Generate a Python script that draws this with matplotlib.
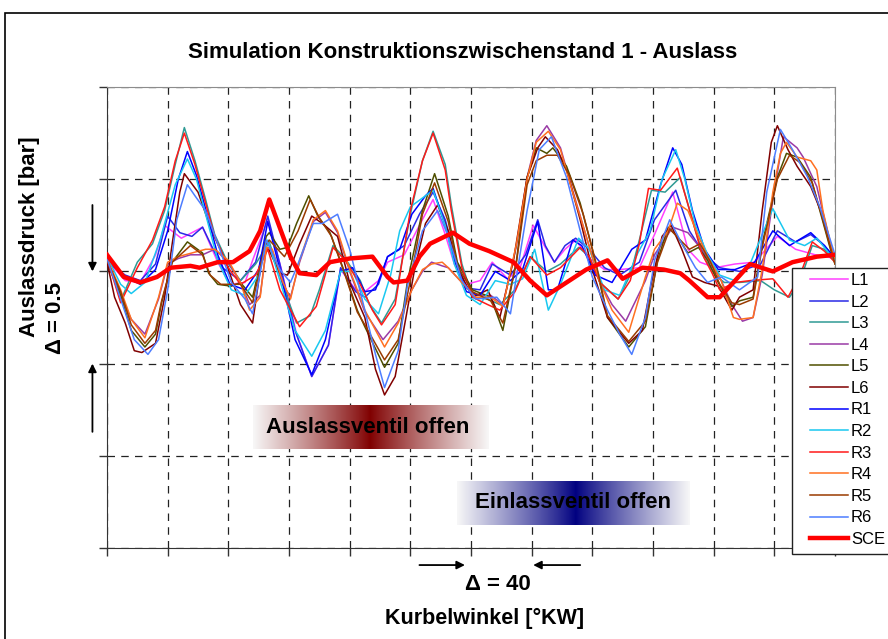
import numpy as np
import matplotlib
matplotlib.use('Agg')
import matplotlib.pyplot as plt
from matplotlib.patches import Rectangle

plt.rcParams['font.family'] = ['Liberation Sans', 'DejaVu Sans']

# Auslassdruck je Zylinder (Kurbelwinkel in °KW, Druck in bar)
l1_kw = [0, 12, 22, 32, 38, 49, 63, 73, 81, 91, 96, 106, 115, 125, 135, 146, 154, 164, 170, 179, 185, 196, 206, 215, 223, 229, 237, 246, 254, 264, 272, 281, 289, 295, 302, 309, 318, 328, 338, 351, 361, 373, 383, 391, 401, 414, 427, 442, 454, 467, 480]
l1_p = [1.56, 1.45, 1.44, 1.59, 1.75, 1.68, 1.74, 1.55, 1.43, 1.44, 1.56, 1.78, 1.51, 1.16, 0.93, 1.10, 1.51, 1.40, 1.39, 1.45, 1.55, 1.59, 1.75, 1.89, 1.70, 1.54, 1.43, 1.45, 1.55, 1.46, 1.51, 1.75, 1.63, 1.55, 1.62, 1.67, 1.57, 1.51, 1.51, 1.52, 1.70, 1.93, 1.62, 1.55, 1.52, 1.54, 1.55, 1.69, 1.62, 1.59, 1.57]

l2_kw = [0, 12, 22, 32, 40, 48, 56, 63, 70, 76, 88, 98, 106, 114, 124, 135, 146, 154, 164, 170, 179, 185, 196, 206, 215, 223, 229, 237, 246, 254, 266, 276, 284, 289, 295, 302, 309, 318, 328, 338, 351, 361, 375, 384, 394, 404, 417, 431, 442, 454, 464, 473, 480]
l2_p = [1.55, 1.48, 1.45, 1.54, 1.80, 1.71, 1.69, 1.74, 1.62, 1.52, 1.45, 1.55, 1.80, 1.54, 1.18, 0.93, 1.10, 1.52, 1.39, 1.36, 1.43, 1.58, 1.64, 1.81, 1.93, 1.78, 1.59, 1.41, 1.40, 1.54, 1.48, 1.59, 1.78, 1.64, 1.55, 1.64, 1.68, 1.62, 1.52, 1.48, 1.55, 1.78, 1.94, 1.72, 1.59, 1.52, 1.50, 1.54, 1.72, 1.66, 1.70, 1.64, 1.57]

l3_kw = [0, 10, 20, 30, 38, 45, 51, 58, 65, 71, 80, 88, 98, 107, 117, 125, 134, 140, 149, 157, 167, 173, 181, 190, 200, 208, 215, 223, 227, 234, 241, 251, 259, 269, 279, 290, 299, 311, 318, 325, 337, 345, 351, 359, 368, 378, 388, 394, 401, 407, 417, 431, 440, 450, 457, 465, 473, 480]
l3_p = [1.55, 1.36, 1.55, 1.65, 1.83, 2.08, 2.28, 2.10, 1.89, 1.70, 1.54, 1.45, 1.54, 1.66, 1.40, 1.22, 1.26, 1.40, 1.64, 1.57, 1.45, 1.32, 1.22, 1.35, 1.81, 2.10, 2.26, 2.08, 1.86, 1.54, 1.36, 1.35, 1.32, 1.40, 1.58, 1.50, 1.54, 1.63, 1.58, 1.44, 1.35, 1.48, 1.67, 1.94, 1.93, 2.01, 1.72, 1.57, 1.48, 1.44, 1.44, 1.45, 1.40, 1.36, 1.45, 1.64, 1.62, 1.55]

l4_kw = [0, 9, 16, 25, 34, 40, 47, 55, 63, 71, 80, 88, 94, 101, 105, 109, 116, 121, 127, 136, 144, 152, 160, 170, 182, 192, 201, 208, 214, 221, 225, 234, 243, 253, 261, 270, 277, 283, 290, 299, 307, 316, 325, 333, 342, 355, 361, 373, 383, 390, 396, 405, 412, 419, 426, 432, 439, 446, 455, 459, 468, 477, 480]
l4_p = [1.56, 1.37, 1.24, 1.16, 1.35, 1.54, 1.57, 1.59, 1.59, 1.62, 1.55, 1.44, 1.32, 1.37, 1.62, 1.61, 1.43, 1.36, 1.55, 1.77, 1.82, 1.71, 1.50, 1.28, 1.13, 1.23, 1.40, 1.50, 1.55, 1.53, 1.52, 1.44, 1.37, 1.37, 1.32, 1.64, 2.01, 2.21, 2.29, 2.17, 1.94, 1.69, 1.44, 1.32, 1.23, 1.45, 1.59, 1.74, 1.71, 1.64, 1.57, 1.45, 1.32, 1.23, 1.25, 1.48, 1.89, 2.23, 2.17, 2.12, 1.96, 1.65, 1.55]

l5_kw = [0, 9, 16, 25, 32, 36, 43, 53, 63, 67, 73, 82, 88, 96, 105, 107, 114, 119, 125, 133, 139, 147, 156, 165, 170, 183, 192, 198, 208, 216, 225, 231, 241, 253, 261, 270, 277, 283, 290, 294, 303, 312, 320, 330, 344, 355, 363, 370, 376, 383, 390, 396, 403, 412, 417, 426, 432, 442, 448, 455, 464, 470, 477, 480]
l5_p = [1.55, 1.37, 1.18, 1.09, 1.16, 1.33, 1.55, 1.66, 1.60, 1.49, 1.43, 1.42, 1.44, 1.36, 1.69, 1.71, 1.62, 1.63, 1.76, 1.91, 1.80, 1.71, 1.51, 1.29, 1.20, 0.98, 1.11, 1.44, 1.83, 2.03, 1.80, 1.55, 1.40, 1.36, 1.18, 1.56, 2.01, 2.17, 2.14, 2.17, 2.07, 1.87, 1.62, 1.25, 1.09, 1.20, 1.56, 1.74, 1.69, 1.60, 1.63, 1.56, 1.44, 1.31, 1.34, 1.36, 1.65, 2.01, 2.14, 2.12, 2.01, 1.83, 1.62, 1.54]

l6_kw = [0, 5, 12, 18, 23, 32, 38, 43, 48, 51, 60, 69, 78, 88, 96, 103, 106, 114, 119, 127, 135, 142, 152, 160, 170, 177, 183, 190, 196, 203, 210, 218, 225, 231, 241, 251, 259, 268, 277, 284, 289, 297, 303, 312, 320, 330, 344, 353, 359, 366, 372, 379, 386, 394, 403, 412, 417, 426, 432, 438, 442, 449, 455, 464, 472, 480]
l6_p = [1.55, 1.36, 1.22, 1.07, 1.06, 1.11, 1.36, 1.65, 1.93, 2.03, 1.93, 1.72, 1.56, 1.32, 1.22, 1.62, 1.63, 1.49, 1.48, 1.65, 1.80, 1.76, 1.69, 1.44, 1.25, 0.97, 0.83, 0.93, 1.20, 1.52, 1.76, 1.86, 1.72, 1.52, 1.36, 1.40, 1.25, 1.56, 2.01, 2.17, 2.23, 2.16, 2.05, 1.78, 1.51, 1.25, 1.11, 1.18, 1.44, 1.69, 1.75, 1.62, 1.47, 1.44, 1.42, 1.29, 1.36, 1.40, 1.83, 2.20, 2.29, 2.16, 2.07, 1.96, 1.80, 1.55]

r1_kw = [0, 12, 22, 32, 40, 47, 53, 59, 66, 73, 81, 91, 100, 106, 114, 124, 135, 144, 154, 162, 170, 177, 185, 193, 201, 210, 215, 223, 229, 237, 246, 256, 266, 274, 284, 291, 297, 307, 313, 322, 333, 346, 355, 365, 373, 379, 386, 394, 403, 414, 427, 439, 450, 464, 473, 480]
r1_p = [1.57, 1.47, 1.43, 1.51, 1.72, 2.00, 2.15, 2.02, 1.81, 1.59, 1.43, 1.40, 1.51, 1.77, 1.51, 1.13, 0.94, 1.13, 1.50, 1.52, 1.39, 1.40, 1.58, 1.62, 1.81, 1.91, 1.95, 1.75, 1.56, 1.39, 1.37, 1.50, 1.45, 1.51, 1.77, 1.40, 1.40, 1.67, 1.64, 1.48, 1.44, 1.62, 1.67, 1.97, 2.17, 2.08, 1.83, 1.62, 1.51, 1.51, 1.55, 1.72, 1.64, 1.71, 1.64, 1.57]

r2_kw = [0, 9, 16, 25, 35, 45, 53, 59, 66, 73, 82, 91, 100, 106, 114, 124, 135, 144, 154, 162, 170, 179, 187, 193, 200, 210, 215, 223, 229, 237, 246, 256, 266, 274, 282, 291, 299, 311, 318, 328, 338, 350, 358, 366, 375, 381, 388, 396, 404, 414, 424, 439, 450, 460, 468, 480]
r2_p = [1.58, 1.43, 1.38, 1.44, 1.67, 1.97, 2.11, 2.00, 1.78, 1.56, 1.40, 1.37, 1.48, 1.67, 1.45, 1.18, 1.04, 1.18, 1.50, 1.50, 1.35, 1.27, 1.48, 1.72, 1.85, 1.91, 1.94, 1.75, 1.54, 1.37, 1.32, 1.45, 1.43, 1.46, 1.62, 1.29, 1.43, 1.68, 1.62, 1.40, 1.37, 1.60, 1.72, 2.00, 2.16, 2.00, 1.75, 1.59, 1.48, 1.45, 1.54, 1.84, 1.67, 1.64, 1.68, 1.56]

r3_kw = [0, 9, 20, 30, 38, 45, 51, 58, 65, 71, 80, 88, 98, 106, 114, 127, 138, 149, 157, 167, 175, 181, 190, 200, 208, 215, 223, 227, 234, 241, 251, 259, 269, 279, 290, 299, 312, 318, 325, 337, 345, 351, 357, 365, 376, 386, 392, 399, 404, 414, 424, 439, 449, 457, 465, 473, 480]
r3_p = [1.57, 1.33, 1.52, 1.67, 1.85, 2.10, 2.25, 2.08, 1.87, 1.69, 1.52, 1.43, 1.48, 1.62, 1.40, 1.20, 1.31, 1.63, 1.56, 1.43, 1.29, 1.21, 1.32, 1.83, 2.10, 2.25, 2.05, 1.83, 1.52, 1.36, 1.32, 1.29, 1.39, 1.58, 1.48, 1.52, 1.63, 1.58, 1.44, 1.35, 1.45, 1.65, 1.95, 1.94, 2.06, 1.78, 1.60, 1.49, 1.40, 1.44, 1.45, 1.46, 1.36, 1.48, 1.66, 1.61, 1.55]

r4_kw = [0, 9, 16, 25, 34, 40, 47, 56, 65, 71, 80, 88, 94, 101, 105, 109, 116, 121, 127, 136, 144, 152, 160, 170, 183, 192, 201, 208, 214, 221, 225, 234, 243, 253, 261, 270, 277, 283, 291, 299, 307, 316, 325, 333, 344, 355, 361, 370, 376, 383, 390, 396, 405, 413, 417, 426, 432, 439, 444, 448, 455, 464, 468, 472, 478, 480]
r4_p = [1.57, 1.40, 1.24, 1.14, 1.36, 1.55, 1.58, 1.60, 1.62, 1.62, 1.56, 1.44, 1.29, 1.36, 1.63, 1.62, 1.44, 1.35, 1.56, 1.78, 1.83, 1.72, 1.51, 1.29, 1.09, 1.22, 1.40, 1.51, 1.54, 1.55, 1.52, 1.44, 1.36, 1.36, 1.31, 1.65, 2.00, 2.20, 2.26, 2.16, 1.93, 1.69, 1.44, 1.29, 1.17, 1.47, 1.62, 1.72, 1.87, 1.83, 1.69, 1.58, 1.45, 1.25, 1.24, 1.25, 1.51, 1.93, 2.14, 2.20, 2.12, 2.10, 2.05, 1.83, 1.62, 1.57]

r5_kw = [0, 9, 16, 25, 32, 36, 43, 55, 63, 68, 75, 88, 96, 104, 107, 117, 126, 134, 140, 148, 157, 165, 170, 183, 192, 200, 208, 216, 225, 231, 241, 253, 261, 270, 277, 283, 290, 297, 305, 314, 322, 330, 344, 355, 363, 371, 378, 384, 391, 398, 404, 412, 417, 426, 432, 442, 450, 457, 465, 471, 480]
r5_p = [1.56, 1.39, 1.21, 1.11, 1.18, 1.34, 1.55, 1.64, 1.59, 1.48, 1.43, 1.43, 1.33, 1.64, 1.67, 1.58, 1.72, 1.89, 1.79, 1.69, 1.48, 1.28, 1.21, 1.02, 1.13, 1.45, 1.81, 1.98, 1.77, 1.53, 1.39, 1.34, 1.22, 1.55, 1.97, 2.10, 2.13, 2.13, 2.02, 1.81, 1.56, 1.26, 1.12, 1.23, 1.55, 1.73, 1.67, 1.62, 1.65, 1.55, 1.43, 1.33, 1.32, 1.35, 1.63, 2.00, 2.13, 2.09, 1.98, 1.81, 1.54]

r6_kw = [0, 9, 18, 27, 34, 40, 46, 53, 58, 65, 73, 82, 91, 96, 105, 114, 121, 125, 136, 142, 152, 160, 170, 177, 183, 192, 198, 208, 218, 225, 234, 243, 257, 266, 277, 285, 293, 303, 312, 320, 330, 338, 346, 355, 361, 371, 379, 388, 396, 405, 417, 429, 435, 444, 452, 462, 470, 480]
r6_p = [1.57, 1.35, 1.13, 1.05, 1.13, 1.40, 1.78, 1.97, 1.91, 1.83, 1.65, 1.44, 1.35, 1.27, 1.67, 1.51, 1.44, 1.52, 1.76, 1.76, 1.81, 1.62, 1.29, 1.05, 0.87, 1.07, 1.42, 1.72, 1.83, 1.69, 1.45, 1.35, 1.36, 1.27, 1.83, 2.16, 2.23, 2.01, 1.72, 1.47, 1.29, 1.16, 1.05, 1.25, 1.56, 1.78, 1.65, 1.52, 1.44, 1.47, 1.40, 1.47, 1.93, 2.27, 2.16, 2.01, 1.85, 1.59]

# Simulation (SCE)
sce_kw = [0, 11, 22, 33, 42, 55, 61, 73, 83, 94, 101, 107, 112, 121, 127, 138, 147, 160, 175, 185, 189, 198, 206, 213, 228, 239, 252, 268, 279, 290, 303, 316, 330, 340, 353, 367, 378, 384, 396, 404, 413, 424, 439, 452, 468, 480]
sce_p = [1.59, 1.47, 1.44, 1.47, 1.52, 1.53, 1.52, 1.55, 1.55, 1.61, 1.72, 1.89, 1.78, 1.58, 1.49, 1.48, 1.55, 1.57, 1.58, 1.47, 1.44, 1.45, 1.58, 1.65, 1.71, 1.65, 1.61, 1.55, 1.45, 1.37, 1.44, 1.51, 1.56, 1.46, 1.52, 1.51, 1.49, 1.45, 1.36, 1.36, 1.44, 1.54, 1.50, 1.55, 1.58, 1.59]

labels = ['L1', 'L2', 'L3', 'L4', 'L5', 'L6', 'R1', 'R2', 'R3', 'R4', 'R5', 'R6']
colors = ['#ff40ff', '#2a2ae6', '#2f9a94', '#9a3aa6', '#4f4f00', '#800000',
          '#0000ff', '#19c8f0', '#ff1a1a', '#ff7020', '#9a3a00', '#4d7dff']
angles = [l1_kw, l2_kw, l3_kw, l4_kw, l5_kw, l6_kw, r1_kw, r2_kw, r3_kw, r4_kw, r5_kw, r6_kw]
pressures = [l1_p, l2_p, l3_p, l4_p, l5_p, l6_p, r1_p, r2_p, r3_p, r4_p, r5_p, r6_p]

W, H = 888, 639
fig = plt.figure(figsize=(W / 100, H / 100), dpi=100)
ax = fig.add_axes([107 / W, 1 - 548 / H, 728 / W, 461 / H])

handles = []
for kw, p, c, lab in zip(angles, pressures, colors, labels):
    h, = ax.plot(kw, p, color=c, lw=1.1, label=lab, zorder=3)
    handles.append(h)
h, = ax.plot(sce_kw, sce_p, color='#ff0000', lw=3.2, label='SCE', zorder=4)
handles.append(h)


def gradient_box(x0, x1, xc, y0, y1, dark):
    # white -> dark -> white, horizontal
    xs = np.linspace(x0, x1, 400)
    t = np.where(xs < xc, (xc - xs) / (xc - x0), (xs - xc) / (x1 - xc))
    t = np.clip(t, 0, 1) ** 0.9
    dark = np.array(matplotlib.colors.to_rgb(dark))
    white = np.array([0.97, 0.97, 0.97])
    rgb = dark[None, :] * (1 - t[:, None]) + white[None, :] * t[:, None]
    img = np.repeat(rgb[None, :, :], 2, axis=0)
    ax.imshow(img, extent=[x0, x1, y0, y1], aspect='auto', zorder=2,
              interpolation='bilinear')


gradient_box(96, 251, 173, 0.537, 0.775, '#800000')
ax.text(172, 0.656, 'Auslassventil offen', ha='center', va='center',
        fontsize=16, fontweight='bold', zorder=5)
gradient_box(231, 384, 309, 0.125, 0.363, '#000080')
ax.text(307, 0.247, 'Einlassventil offen', ha='center', va='center',
        fontsize=16, fontweight='bold', zorder=5)

ax.set_xlim(0, 480)
ax.set_ylim(0, 2.5)
ax.set_xticks(np.arange(0, 481, 40))
ax.set_yticks(np.arange(0, 2.51, 0.5))
ax.set_xticklabels([])
ax.set_yticklabels([])
ax.tick_params(direction='out', length=6, width=1, color='#333333')
ax.grid(True, color='#222222', linestyle=(0, (6, 5)), linewidth=0.9)
ax.set_axisbelow(True)
for s in ['top', 'right']:
    ax.spines[s].set_color('#8c8c8c')
for s in ['left', 'bottom']:
    ax.spines[s].set_color('#333333')

# Achsbeschriftungen
fig.text(463 / W, 1 - 53 / H, 'Simulation Konstruktionszwischenstand 1 - Auslass',
         ha='center', va='center', fontsize=16, fontweight='bold')
ax.text(-0.106, 0.676, 'Auslassdruck [bar]', transform=ax.transAxes, rotation=90,
        ha='center', va='center', fontsize=16, fontweight='bold')
ax.text(-0.071, 1.25, 'Δ = 0.5', transform=ax.get_yaxis_transform(), rotation=90,
        ha='center', va='center', fontsize=16, fontweight='bold')
ax.text(0.518, -0.152, 'Kurbelwinkel [°KW]', transform=ax.transAxes,
        ha='center', va='center', fontsize=15.5, fontweight='bold')
ax.text(258, -0.08, 'Δ = 40', transform=ax.get_xaxis_transform(),
        ha='center', va='center', fontsize=16, fontweight='bold')

arrow = dict(arrowstyle='-|>', color='black', lw=1.3, mutation_scale=12,
             shrinkA=0, shrinkB=0)
ax.annotate('', xy=(-0.020, 1.5), xytext=(-0.020, 1.86),
            xycoords=('axes fraction', 'data'), arrowprops=arrow, annotation_clip=False)
ax.annotate('', xy=(-0.020, 1.0), xytext=(-0.020, 0.63),
            xycoords=('axes fraction', 'data'), arrowprops=arrow, annotation_clip=False)
ax.annotate('', xy=(236, -0.037), xytext=(206, -0.037),
            xycoords=('data', 'axes fraction'), arrowprops=arrow, annotation_clip=False)
ax.annotate('', xy=(281, -0.037), xytext=(312, -0.037),
            xycoords=('data', 'axes fraction'), arrowprops=arrow, annotation_clip=False)

# Legendenrahmen, reicht über den rechten Bildrand hinaus
fig.patches.append(Rectangle((792 / W, 1 - 554 / H), 120 / W, 286 / H,
                             transform=fig.transFigure, facecolor='white',
                             edgecolor='#222222', lw=1.0, zorder=4))
leg = fig.legend(handles, labels + ['SCE'], loc='upper left',
                 bbox_to_anchor=(810 / W, 1 - 273 / H), frameon=False,
                 fontsize=12, handlelength=2.3, handletextpad=0.15,
                 labelspacing=0.395, borderpad=0, borderaxespad=0)
leg.set_zorder(6)

# Rahmen um die Grafik
fig.patches.append(Rectangle((5 / W, -0.05), 1.2, 1 - 13 / H + 0.05,
                             transform=fig.transFigure, fill=False,
                             edgecolor='black', lw=1.2))

fig.savefig('out.png', dpi=100)
